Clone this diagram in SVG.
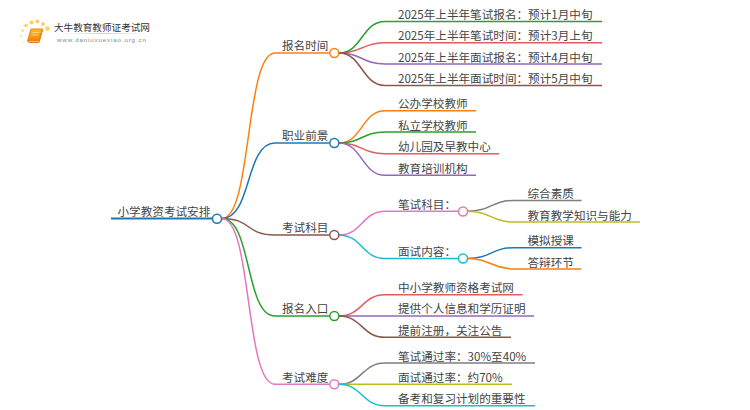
<svg xmlns="http://www.w3.org/2000/svg" width="750" height="410" viewBox="0 0 750 410">
<defs><linearGradient id="bk" x1="0" y1="0" x2="0" y2="1"><stop offset="0" stop-color="#ffc020"/><stop offset="1" stop-color="#f08010"/></linearGradient>
<linearGradient id="ul" x1="0" y1="0" x2="1" y2="0"><stop offset="0" stop-color="#ddd" stop-opacity="0"/><stop offset=".5" stop-color="#ccc"/><stop offset="1" stop-color="#ddd" stop-opacity="0"/></linearGradient></defs>
<style>
text{font-family:"Noto Sans CJK SC","Noto Sans",sans-serif;font-size:11.6px;fill:#444}
path{fill:none;stroke-width:1.5}
circle.n{fill:#fff;stroke-width:1.5}
.or{stroke:#ff7f0e}.bl{stroke:#1f77b4}.gr{stroke:#2ca02c}.re{stroke:#d62728;stroke-opacity:.75}.pu{stroke:#9467bd}.br{stroke:#8c564b}.pi{stroke:#e377c2}.gy{stroke:#7f7f7f}.ol{stroke:#bcbd22}.cy{stroke:#17becf}
.dot{fill:#ffd060}
</style>
<rect width="750" height="410" fill="#fff"/>
<g id="logo">
<circle class="dot" cx="21" cy="36" r="1.3" opacity=".5"/><circle class="dot" cx="22.500" cy="30.500" r="1.500" opacity=".7"/><circle class="dot" cx="26" cy="25.500" r="1.800"/><circle class="dot" cx="31.500" cy="22.500" r="2"/><circle class="dot" cx="37.500" cy="21.500" r="2"/><circle class="dot" cx="43" cy="24" r="2"/><circle class="dot" cx="47.500" cy="28.500" r="2.300"/><circle class="dot" cx="23.500" cy="42.500" r="1" opacity=".4"/>
<path d="M31,29 H42.500 L39,41 H27.500 Z" style="fill:url(#bk);stroke:#f08010;stroke-width:1"/>
<path d="M27.500,41 Q28,42.500 30,42.500 H39 L42.500,30" style="stroke:#e87810;stroke-width:1"/>
<path d="M32,32.500 H39 M31.500,35 H38" style="stroke:#ffe090;stroke-width:.8"/>
<text x="54" y="31" style="font-size:9.6px;fill:#333">大牛教育教师证考试网</text>
<rect x="58" y="33" width="92" height="1" fill="url(#ul)"/>
<text x="57" y="41.500" style="font-size:6.2px;fill:#888;letter-spacing:.85px;font-family:'Liberation Sans',sans-serif">www.daniuxuexiao.org.cn</text>
</g>
<g id="connectors">
<path class="bl" style="stroke-width:2" d="M111,218.500 H212"/>
<path class="or" d="M222,218.500 C252,218.500 245,53 275,53 H329.500"/>
<path class="bl" d="M222,218.500 C252,218.500 245,143 275,143 H329.500"/>
<path class="br" d="M222,218.500 C252,218.500 245,235 275,235 H329.500"/>
<path class="gr" d="M222,218.500 C252,218.500 245,316 275,316 H329.500"/>
<path class="pi" d="M222,218.500 C252,218.500 245,384.300 275,384.300 H329.500"/>
<path class="gr" d="M339,53 C362,53 362,21.500 385,21.500 H602"/>
<path class="re" d="M339,53 C362,53 362,42.700 385,42.700 H602"/>
<path class="pu" d="M339,53 C362,53 362,64 385,64 H602"/>
<path class="br" d="M339,53 C362,53 362,85.500 385,85.500 H602"/>
<path class="or" d="M339,143 C362,143 362,110.700 385,110.700 H476"/>
<path class="gr" d="M339,143 C362,143 362,132 385,132 H476"/>
<path class="re" d="M339,143 C362,143 362,153.700 385,153.700 H499"/>
<path class="pu" d="M339,143 C362,143 362,175.300 385,175.300 H476"/>
<path class="pi" d="M339,235 C362,235 362,211.300 385,211.300 H458.500"/>
<path class="cy" d="M339,235 C362,235 362,258.500 385,258.500 H458.500"/>
<path class="gy" d="M467.500,211.300 C491,211.300 491,200.500 514,200.500 H581.500"/>
<path class="ol" d="M467.500,211.300 C491,211.300 491,222 514,222 H640"/>
<path class="bl" d="M467.500,258.500 C491,258.500 491,247.700 514,247.700 H581.500"/>
<path class="or" d="M467.500,258.500 C491,258.500 491,269 514,269 H581.500"/>
<path class="re" d="M339,316 C362,316 362,294.700 385,294.700 H522.500"/>
<path class="pu" d="M339,316 H534"/>
<path class="br" d="M339,316 C362,316 362,337.300 385,337.300 H511"/>
<path class="gy" d="M339,384.300 C362,384.300 362,363 385,363 H535"/>
<path class="ol" d="M339,384.300 H512"/>
<path class="cy" d="M339,384.300 C362,384.300 362,405.700 385,405.700 H535"/>
</g>
<g id="root"><circle class="n bl" cx="217" cy="218.700" r="4.500"/><text x="117.500" y="216">小学教资考试安排</text></g>
<g id="n1"><circle class="n or" cx="334.300" cy="53" r="4.500"/><text x="282" y="50">报名时间</text></g>
<g id="n1a"><text x="398" y="19">2025年上半年笔试报名：预计1月中旬</text></g>
<g id="n1b"><text x="398" y="40">2025年上半年笔试时间：预计3月上旬</text></g>
<g id="n1c"><text x="398" y="61.500">2025年上半年面试报名：预计4月中旬</text></g>
<g id="n1d"><text x="398" y="83">2025年上半年面试时间：预计5月中旬</text></g>
<g id="n2"><circle class="n bl" cx="334.300" cy="143" r="4.500"/><text x="282" y="140">职业前景</text></g>
<g id="n2a"><text x="398" y="108">公办学校教师</text></g>
<g id="n2b"><text x="398" y="129.500">私立学校教师</text></g>
<g id="n2c"><text x="398" y="151">幼儿园及早教中心</text></g>
<g id="n2d"><text x="398" y="172.500">教育培训机构</text></g>
<g id="n3"><circle class="n br" cx="334.300" cy="235" r="4.500"/><text x="282" y="232">考试科目</text></g>
<g id="n3a"><circle class="n pi" cx="463" cy="211.500" r="4.500"/><text x="398" y="208.500">笔试科目：</text></g>
<g id="n3a1"><text x="527.500" y="198">综合素质</text></g>
<g id="n3a2"><text x="527.500" y="219.500">教育教学知识与能力</text></g>
<g id="n3b"><circle class="n cy" cx="463" cy="258.500" r="4.500"/><text x="398" y="255.500">面试内容：</text></g>
<g id="n3b1"><text x="527.500" y="245">模拟授课</text></g>
<g id="n3b2"><text x="527.500" y="266.500">答辩环节</text></g>
<g id="n4"><circle class="n gr" cx="334.300" cy="316" r="4.500"/><text x="282" y="313">报名入口</text></g>
<g id="n4a"><text x="398" y="292">中小学教师资格考试网</text></g>
<g id="n4b"><text x="398" y="313">提供个人信息和学历证明</text></g>
<g id="n4c"><text x="398" y="334.500">提前注册，关注公告</text></g>
<g id="n5"><circle class="n pi" cx="334.300" cy="384.300" r="4.500"/><text x="282" y="381.500">考试难度</text></g>
<g id="n5a"><text x="398" y="360.500">笔试通过率：30%至40%</text></g>
<g id="n5b"><text x="398" y="381.500">面试通过率：约70%</text></g>
<g id="n5c"><text x="398" y="403">备考和复习计划的重要性</text></g>
</svg>
